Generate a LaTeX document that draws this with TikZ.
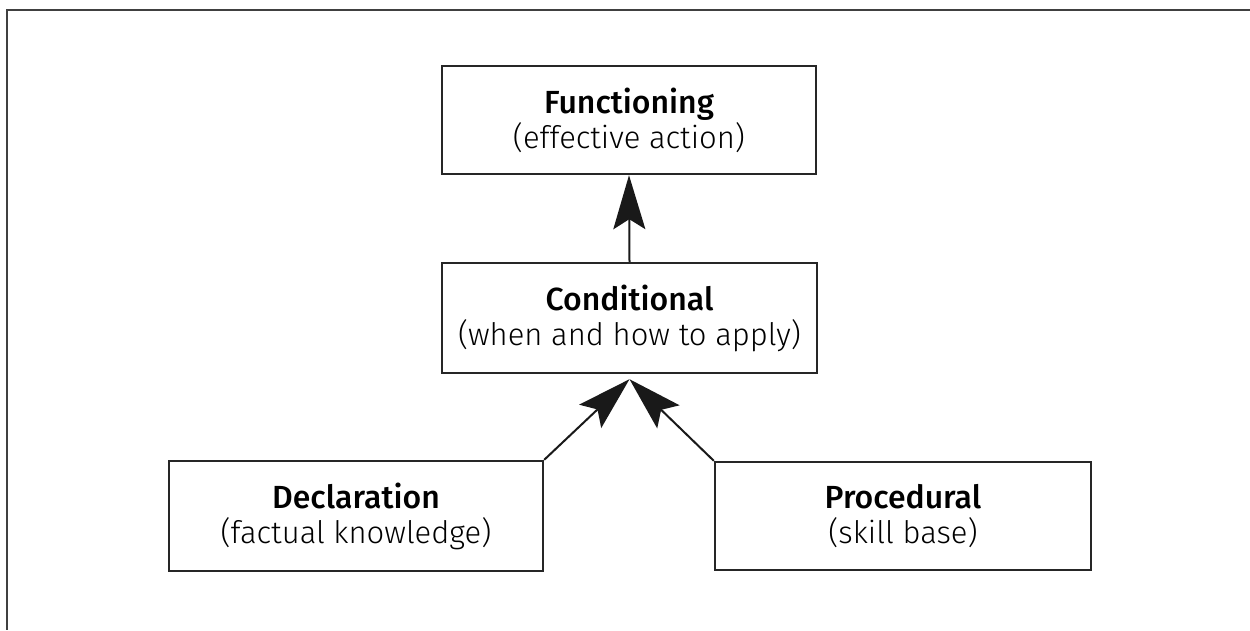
\documentclass[tikz,border=0pt]{standalone}
\usepackage{fontspec}
\setmainfont{Fira Sans}
\newfontfamily\medf{Fira Sans Medium}
\newfontfamily\lightf{Fira Sans Light}
\usetikzlibrary{arrows.meta,calc}
\newcommand{\ttl}[1]{{\medf\fontsize{32}{35}\selectfont #1}}
\newcommand{\sub}[1]{{\lightf\fontsize{31}{35}\selectfont #1}}
\begin{document}
\begin{tikzpicture}[x=1pt,y=-1pt,
  box/.style={draw=black!85,line width=2.4pt,minimum width=374pt,minimum height=108pt,
    align=center,inner sep=0pt,font=\fontsize{31}{35}\selectfont},
  conn/.style={draw=black!90,line width=2pt,-{Stealth[length=54pt,width=32pt,inset=10pt]}}]
\useasboundingbox (0,0) rectangle (1250,630);
\draw[line width=2pt,black!75] (1250,10) -- (7,10) -- (7,630);
\node[box] (fun) at (629,120) {\ttl{Functioning}\\\sub{(effective action)}};
\node[box,minimum height=110pt,minimum width=375pt] (cond) at (629.5,318) {\ttl{Conditional}\\\sub{(when and how to apply)}};
\node[box,minimum height=110pt] (decl) at (356,516) {\ttl{Declaration}\\\sub{(factual knowledge)}};
\node[box,minimum width=376pt] (proc) at (903,516) {\ttl{Procedural}\\\sub{(skill base)}};
\coordinate (tip) at ($(cond.south)+(0,5)$);
\draw[conn] (cond.north) -- (fun.south);
\draw[conn] (decl.north east) -- (tip);
\draw[conn] (proc.north west) -- (tip);
\end{tikzpicture}
\end{document}
